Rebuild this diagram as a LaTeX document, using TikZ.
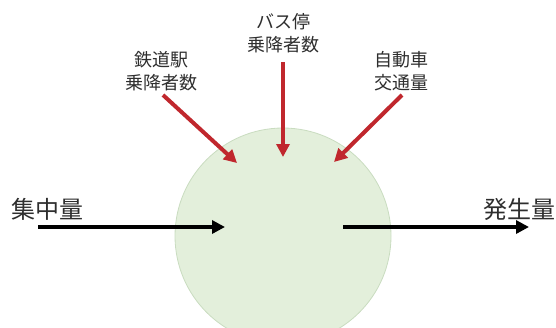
\documentclass[tikz,border=0pt]{standalone}
\usepackage{fontspec}
\setmainfont{Noto Sans CJK JP}
\usetikzlibrary{arrows.meta}
\definecolor{arrred}{HTML}{C0272D}
\definecolor{circfill}{HTML}{E3EFDB}
\definecolor{circline}{HTML}{C9DCC0}
\definecolor{txt}{HTML}{2E2E2E}
\begin{document}
\begin{tikzpicture}[x=1pt,y=-1pt,
  small/.style={text=txt,font=\fontsize{18}{23}\selectfont,align=center,inner sep=0pt},
  big/.style={text=txt,font=\fontsize{24}{28}\selectfont,inner sep=0pt},
  redarrow/.style={draw=arrred,line width=4pt,-{Triangle[length=13pt,width=13pt]}},
  blackarrow/.style={draw=black,line width=4pt,-{Triangle[length=13pt,width=13pt]}}]
\useasboundingbox (0,0) rectangle (556,327);
\begin{scope}
\clip (0,0) rectangle (556,327);
\node[circle,draw=circline,fill=circfill,line width=0.8pt,minimum size=216pt,inner sep=0pt] (c) at (283,236) {};
\end{scope}
\node[small] (bus) at (283,33) {バス停\\乗降者数};
\node[small] (rail) at (161,71) {鉄道駅\\乗降者数};
\node[small] (car) at (401,71) {自動車\\交通量};
\node[big] (in) at (47,209) {集中量};
\node[big] (out) at (519,209) {発生量};
\coordinate (bs) at (283,62);
\coordinate (be) at (283,157);
\coordinate (rs) at (163,95);
\coordinate (re) at (237,163);
\coordinate (cs) at (402,95);
\coordinate (ce) at (334,162);
\coordinate (is) at (38,227);
\coordinate (ie) at (225,227);
\coordinate (os) at (343,227);
\coordinate (oe) at (529,227);
\draw[redarrow] (bs) -- (be);
\draw[redarrow] (rs) -- (re);
\draw[redarrow] (cs) -- (ce);
\draw[blackarrow] (is) -- (ie);
\draw[blackarrow] (os) -- (oe);
\end{tikzpicture}
\end{document}
